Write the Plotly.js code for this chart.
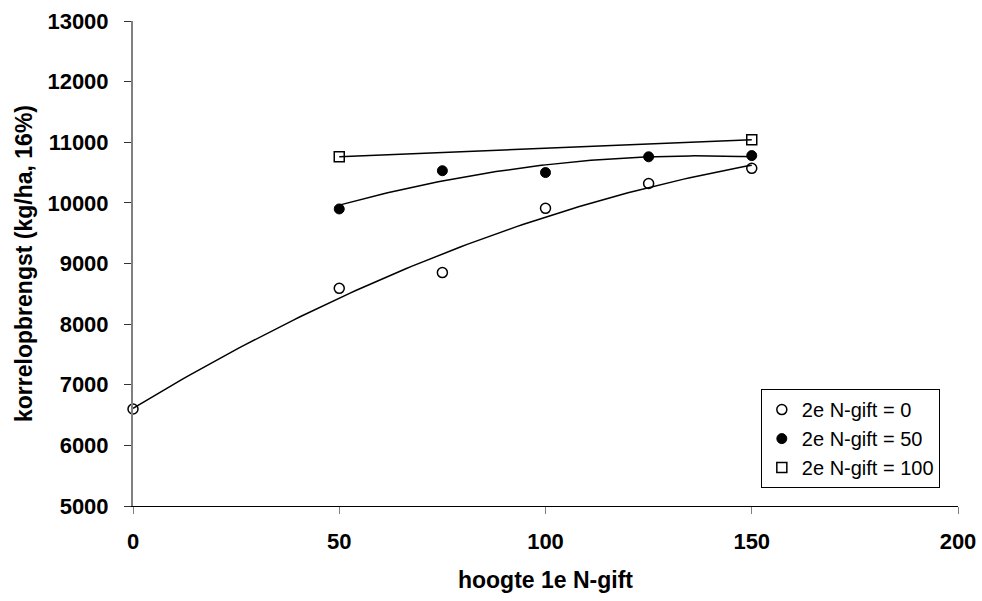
<!DOCTYPE html>
<html>
<head>
<meta charset="utf-8">
<script src="https://cdn.plot.ly/plotly-3.0.1.min.js"></script>
<style>html,body{margin:0;padding:0;background:#fff;}#chart{width:982px;height:601px;}</style>
</head>
<body>
<div id="chart"></div>
<script>
// Data
const seriesNames = ["2e N-gift = 0", "2e N-gift = 50", "2e N-gift = 100"];
const x0 = [0, 50, 75, 100, 125, 150];
const y0 = [6600, 8590, 8850, 9910, 10320, 10570];
const x50 = [50, 75, 100, 125, 150];
const y50 = [9900, 10530, 10500, 10760, 10780];
const x100 = [50, 150];
const y100 = [10760, 11040];
const fitOrders = [2, 2, 1];

// polynomial least-squares trendline (as the spreadsheet trendline)
function polyFit(xs, ys, order) {
  const n = order + 1;
  const A = [];
  for (let i = 0; i < n; i++) {
    A.push([]);
    for (let j = 0; j <= n; j++) A[i].push(0);
  }
  for (let k = 0; k < xs.length; k++) {
    for (let i = 0; i < n; i++) {
      for (let j = 0; j < n; j++) A[i][j] += Math.pow(xs[k], i + j);
      A[i][n] += ys[k] * Math.pow(xs[k], i);
    }
  }
  for (let i = 0; i < n; i++) {
    let p = i;
    for (let r = i + 1; r < n; r++) if (Math.abs(A[r][i]) > Math.abs(A[p][i])) p = r;
    [A[i], A[p]] = [A[p], A[i]];
    for (let r = 0; r < n; r++) {
      if (r === i) continue;
      const f = A[r][i] / A[i][i];
      for (let c = i; c <= n; c++) A[r][c] -= f * A[i][c];
    }
  }
  return A.map((row, i) => row[n] / row[i]);
}
function fitLine(xs, ys, order) {
  const c = polyFit(xs, ys, order);
  const lo = Math.min(...xs), hi = Math.max(...xs);
  const fx = [], fy = [];
  for (let s = 0; s <= 100; s++) {
    const xv = lo + (hi - lo) * s / 100;
    let yv = 0;
    for (let i = 0; i < c.length; i++) yv += c[i] * Math.pow(xv, i);
    fx.push(xv); fy.push(yv);
  }
  return {fx, fy};
}

const xs = [x0, x50, x100];
const ys = [y0, y50, y100];
const markers = [
  {symbol: 'circle-open', size: 10, color: '#000', line: {width: 1.5, color: '#000'}},
  {symbol: 'circle', size: 10, color: '#000', line: {width: 1, color: '#000'}},
  {symbol: 'square-open', size: 10, color: '#000', line: {width: 1.5, color: '#000'}}
];

const traces = [];
for (let i = 0; i < 3; i++) {
  const f = fitLine(xs[i], ys[i], fitOrders[i]);
  traces.push({x: f.fx, y: f.fy, mode: 'lines', line: {color: '#000', width: 1.5},
    showlegend: false, hoverinfo: 'skip'});
}
for (let i = 0; i < 3; i++) {
  traces.push({x: xs[i], y: ys[i], mode: 'markers', name: seriesNames[i],
    marker: markers[i], cliponaxis: false});
}

const layout = {
  width: 982, height: 601,
  margin: {l: 133, r: 24, t: 21, b: 95},
  paper_bgcolor: '#fff', plot_bgcolor: '#fff',
  font: {family: 'Liberation Sans, Arial, sans-serif', color: '#000'},
  showlegend: true,
  legend: {
    x: 0.761, y: 0.241, xanchor: 'left', yanchor: 'top',
    bgcolor: '#fff', bordercolor: '#000', borderwidth: 1,
    font: {size: 20, color: '#000', family: 'Liberation Sans, Arial, sans-serif'},
    itemwidth: 30
  },
  xaxis: {
    range: [0, 200], dtick: 50, tick0: 0, tickformat: 'd',
    showgrid: false, zeroline: false,
    showline: true, linecolor: '#000', linewidth: 1,
    ticks: 'outside', ticklen: 7, tickcolor: '#808080', tickwidth: 1,
    ticklabelstandoff: 9,
    tickfont: {size: 22, weight: 'bold', color: '#000'},
    title: {text: 'hoogte 1e N-gift', font: {size: 23, weight: 'bold', color: '#000'}, standoff: 18}
  },
  yaxis: {
    range: [5000, 13000], dtick: 1000, tick0: 5000, tickformat: 'd',
    showgrid: false, zeroline: false,
    showline: true, linecolor: '#808080', linewidth: 2,
    ticks: 'outside', ticklen: 7, tickcolor: '#333', tickwidth: 1,
    ticklabelstandoff: 11,
    tickfont: {size: 22, weight: 'bold', color: '#000'},
    title: {text: 'korrelopbrengst (kg/ha, 16%)', font: {size: 23, weight: 'bold', color: '#000'}, standoff: 8}
  }
};

Plotly.newPlot('chart', traces, layout, {displayModeBar: false, staticPlot: true});
</script>
</body>
</html>
